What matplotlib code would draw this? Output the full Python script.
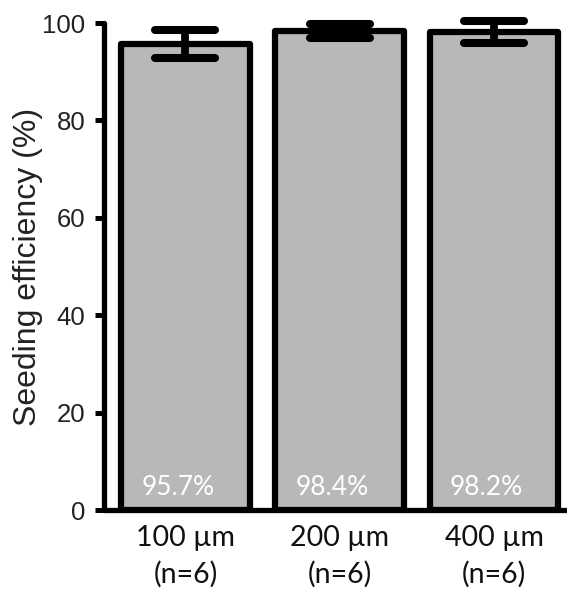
import numpy as np
import matplotlib
matplotlib.use("Agg")
import matplotlib.pyplot as plt
from matplotlib.markers import MarkerStyle

# values
categories = ["100 \u00b5m\n(n=6)", "200 \u00b5m\n(n=6)", "400 \u00b5m\n(n=6)"]
efficiency = [95.7, 98.4, 98.2]
errors = [2.8, 1.4, 2.3]
bar_labels = ["95.7%", "98.4%", "98.2%"]
yticks = [0, 20, 40, 60, 80, 100]

fig = plt.figure(figsize=(5.67, 5.92), dpi=100)
ax = fig.add_axes([0.1834, 0.1385, 0.8166, 0.8226])

x = np.arange(len(categories))
bars = ax.bar(x, efficiency, width=0.835, color="#b8b8b8", edgecolor="black",
              linewidth=4.5, zorder=2)
for b in bars:
    b.set_joinstyle("round")

eb = ax.errorbar(x, efficiency, yerr=errors, fmt="none", ecolor="black",
                 elinewidth=5.6, capsize=21.5, capthick=5.8, zorder=3)
for cap in eb[1]:
    cap.set_marker(MarkerStyle("_", capstyle="round"))
    cap.set_clip_on(False)
for ln in eb[2]:
    ln.set_clip_on(False)

for xi, lab in zip(x, bar_labels):
    ax.text(xi - 0.05, 3.0, lab, color="white", fontsize=19, family="Lato",
            ha="center", va="baseline", zorder=4)

ax.set_xlim(-0.528, 2.473)
ax.set_ylim(0, 100)
ax.set_yticks(yticks)
ax.set_xticks(x)
ax.set_xticklabels(categories, family="Lato", fontsize=20.5, linespacing=1.45,
                   color="#111111")
ax.tick_params(axis="x", length=0, pad=11)
ax.tick_params(axis="y", direction="out", length=6.5, width=3.6, pad=7,
               labelsize=18.5, labelcolor="#222222")
for t in ax.get_yticklabels():
    t.set_family("Liberation Sans")

for side in ["top", "right"]:
    ax.spines[side].set_visible(False)
for side in ["left", "bottom"]:
    ax.spines[side].set_linewidth(3.8)
    ax.spines[side].set_capstyle("round")

ax.set_ylabel("Seeding efficiency (%)", fontsize=23, family="Liberation Sans",
              color="#222222")
ax.yaxis.set_label_coords(-0.132, 0.5)

fig.savefig("out.png", dpi=100)
